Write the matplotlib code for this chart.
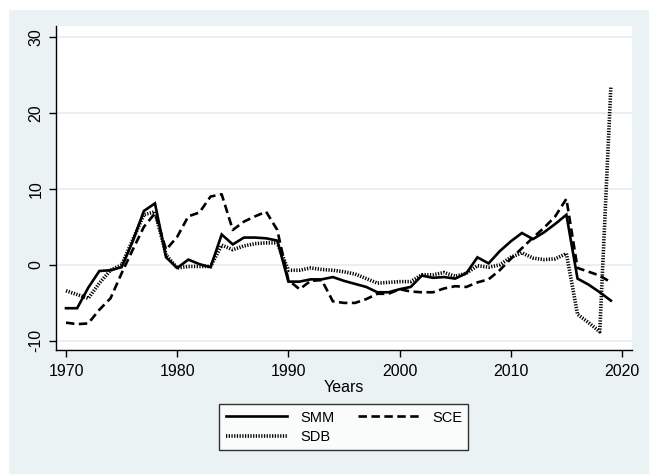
import matplotlib.pyplot as plt
from matplotlib.patches import Rectangle

plt.rcParams["font.family"] = ["Liberation Sans", "DejaVu Sans"]

years = list(range(1970, 2020))

smm = [-5.7, -5.7, -3.0, -0.8, -0.7, -0.3, 3.1, 7.1, 8.1, 1.0,
       -0.4, 0.7, 0.1, -0.3, 4.0, 2.7, 3.6, 3.6, 3.5, 3.2,
       -2.2, -2.2, -1.9, -1.9, -1.6, -2.1, -2.5, -2.9, -3.6, -3.6,
       -3.2, -2.9, -1.4, -1.7, -1.6, -1.8, -1.1, 1.0, 0.2, 1.8,
       3.1, 4.2, 3.4, 4.3, 5.4, 6.6, -1.8, -2.6, -3.6, -4.7]

sce = [-7.6, -7.8, -7.7, -5.9, -4.4, -1.1, 2.0, 5.0, 6.8, 2.0,
       3.7, 6.4, 6.9, 9.0, 9.3, 4.6, 5.7, 6.4, 7.0, 4.6,
       -2.0, -3.2, -2.1, -2.0, -4.8, -5.0, -5.0, -4.5, -3.8, -3.8,
       -3.2, -3.5, -3.6, -3.6, -3.1, -2.8, -2.9, -2.3, -1.9, -0.7,
       0.8, 2.2, 3.6, 4.9, 6.4, 8.7, -0.4, -0.9, -1.4, -2.3]

sdb = [-3.4, -3.9, -4.4, -2.4, -0.7, 0.0, 3.3, 6.6, 7.0, 1.3,
       -0.4, -0.2, -0.2, -0.2, 2.6, 2.0, 2.5, 2.8, 2.9, 2.9,
       -0.7, -0.7, -0.4, -0.6, -0.7, -0.9, -1.2, -1.8, -2.4, -2.3,
       -2.2, -2.2, -1.3, -1.3, -1.0, -1.5, -1.1, -0.1, -0.3, 0.0,
       1.0, 1.6, 0.9, 0.7, 0.8, 1.5, -6.5, -7.6, -8.8, 23.5]

yticks = [-10, 0, 10, 20, 30]
xticks = [1970, 1980, 1990, 2000, 2010, 2020]

bg = "#EAF2F3"
W, H = 649, 474

fig = plt.figure(figsize=(W / 100, H / 100), dpi=100)
fig.patch.set_facecolor("white")
fig.add_artist(Rectangle((9 / W, 0), 1 - 9 / W, 1 - 10 / H,
                         transform=fig.transFigure, facecolor=bg,
                         edgecolor="none", zorder=0))

ax = fig.add_axes([56 / W, 1 - 350 / H, (632 - 56) / W, (350 - 26) / H])
ax.set_facecolor("white")

l1, = ax.plot(years, smm, color="black", lw=1.9, solid_joinstyle="miter",
              label="SMM")
l2, = ax.plot(years, sce, color="black", lw=1.9, linestyle=(0, (3.2, 1.7)),
              label="SCE")
l3, = ax.plot(years, sdb, color="black", lw=2.6, linestyle=(0, (0.35, 0.4)),
              label="SDB")

ax.set_xlim(1969.1, 2020.9)
ax.set_ylim(-11.2, 31.45)
ax.set_xticks(xticks)
ax.set_yticks(yticks)
ax.set_yticklabels([str(v) for v in yticks], rotation=90, va="center")
ax.tick_params(axis="both", direction="out", length=5, width=1,
               labelsize=11.5, color="black")
ax.tick_params(axis="x", pad=5)
ax.tick_params(axis="y", pad=4)

ax.grid(axis="y", color="#E3ECEF", lw=1.2)
ax.set_axisbelow(True)
for side in ["top", "right"]:
    ax.spines[side].set_visible(False)
for side in ["left", "bottom"]:
    ax.spines[side].set_linewidth(1)

ax.set_xlabel("Years", fontsize=11.5, labelpad=1)

leg = fig.legend(handles=[l1, l3, l2], labels=["SMM", "SDB", "SCE"],
                 ncol=2, loc="upper left",
                 bbox_to_anchor=(219 / W, 1 - 404 / H), borderaxespad=0,
                 fontsize=10.5, frameon=True, fancybox=False,
                 edgecolor="black", handlelength=4.2, columnspacing=1.6,
                 borderpad=0.45, labelspacing=0.35, handletextpad=0.9)
leg.get_frame().set_linewidth(1)

fig.savefig("out.png", dpi=100, facecolor=fig.get_facecolor())
